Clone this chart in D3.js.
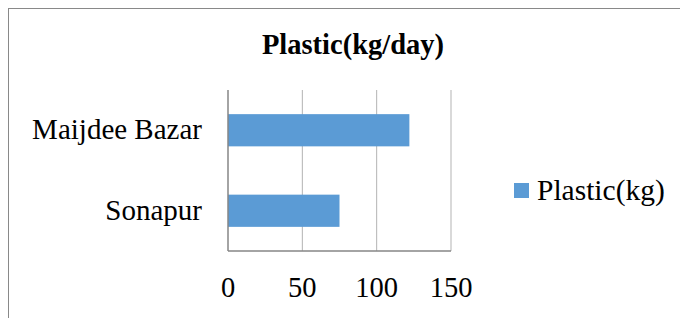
<!DOCTYPE html>
<head>
    <title>Plastic(kg/day)</title>
    <script src="https://d3js.org/d3.v7.min.js"></script>
    <style>
        body{
            margin: 0;
            background: #fff;
        }
        svg{
            display: block;
        }
    </style>
</head>
<body>
    <svg id="chart" width="680" height="318"></svg>
    <script>
        // Data
        var categories = ["Maijdee Bazar", "Sonapur"];
        var plastic = [122, 75];
        var xTicks = [0, 50, 100, 150];
        var seriesName = "Plastic(kg)";
        var title = "Plastic(kg/day)";

        var serif = "'Liberation Serif', 'Times New Roman', serif";
        var svg = d3.select("#chart");

        // outer chart border (runs off the right and bottom of the window)
        svg.append("rect")
            .attr("x", 8.5).attr("y", 8.5)
            .attr("width", 720).attr("height", 400)
            .attr("fill", "#fff")
            .attr("stroke", "#898989");

        var plot = {left: 228, right: 451, top: 90, bottom: 251};

        var x = d3.scaleLinear().domain([0, 150]).range([plot.left, plot.right]);
        var y = d3.scaleBand().domain(categories).range([plot.top, plot.bottom]).paddingInner(0.6).paddingOuter(0.3);

        // gridlines
        svg.selectAll(".grid")
            .data(xTicks.slice(1))
            .enter()
            .append("line")
            .attr("x1", d => x(d)).attr("x2", d => x(d))
            .attr("y1", plot.top).attr("y2", plot.bottom)
            .attr("stroke", "#b3b3b3")
            .attr("stroke-width", 1);

        // bars
        svg.selectAll(".bar")
            .data(categories)
            .enter()
            .append("rect")
            .attr("x", x(0))
            .attr("y", d => y(d))
            .attr("width", (d, i) => x(plastic[i]) - x(0))
            .attr("height", y.bandwidth())
            .attr("fill", "#5b9bd5");

        // axes
        svg.append("line")
            .attr("x1", x(0)).attr("x2", x(0))
            .attr("y1", plot.top).attr("y2", plot.bottom)
            .attr("stroke", "#868686").attr("stroke-width", 1.5);
        svg.append("line")
            .attr("x1", x(0)).attr("x2", plot.right)
            .attr("y1", plot.bottom).attr("y2", plot.bottom)
            .attr("stroke", "#868686").attr("stroke-width", 1.5);

        // tick labels
        svg.selectAll(".xlab")
            .data(xTicks)
            .enter()
            .append("text")
            .attr("x", d => x(d))
            .attr("y", 297)
            .attr("text-anchor", "middle")
            .style("font-family", serif)
            .style("font-size", "28.5px")
            .text(d => d);

        svg.selectAll(".ylab")
            .data(categories)
            .enter()
            .append("text")
            .attr("x", 202)
            .attr("y", d => y(d) + y.bandwidth() / 2 + 9)
            .attr("text-anchor", "end")
            .style("font-family", serif)
            .style("font-size", "29px")
            .text(d => d);

        // title
        svg.append("text")
            .attr("x", 353).attr("y", 54)
            .attr("text-anchor", "middle")
            .style("font-family", serif)
            .style("font-size", "28.5px")
            .style("font-weight", "bold")
            .text(title);

        // legend
        svg.append("rect")
            .attr("x", 514).attr("y", 183)
            .attr("width", 15).attr("height", 15)
            .attr("fill", "#5b9bd5");
        svg.append("text")
            .attr("x", 537).attr("y", 200)
            .style("font-family", serif)
            .style("font-size", "29.5px")
            .text(seriesName);
    </script>
</body>
</html>
